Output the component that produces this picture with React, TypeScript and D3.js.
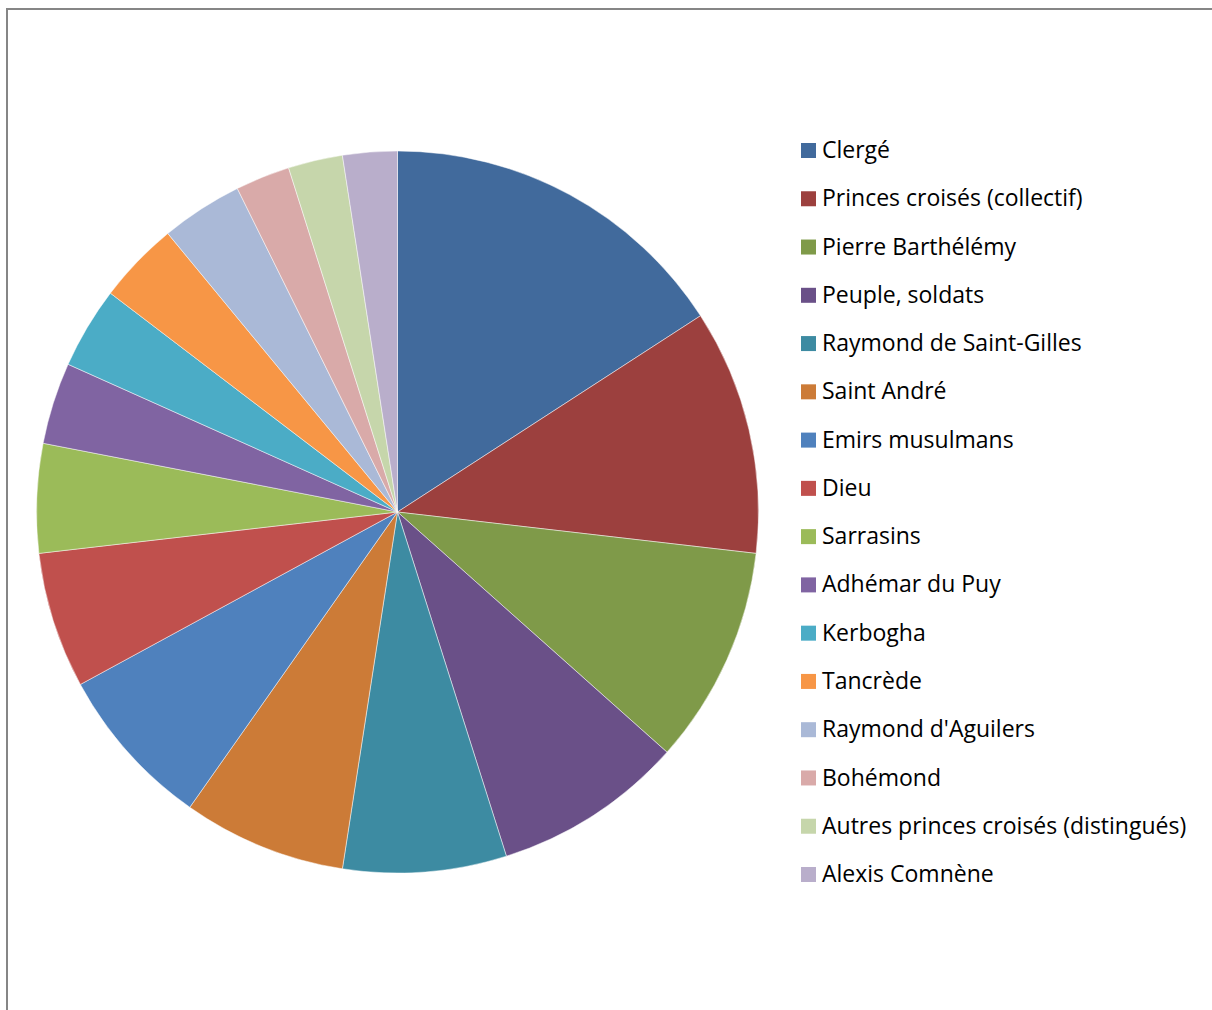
import React from "react";
import * as d3 from "d3";

const categories = [
  "Clergé",
  "Princes croisés (collectif)",
  "Pierre Barthélémy",
  "Peuple, soldats",
  "Raymond de Saint-Gilles",
  "Saint André",
  "Emirs musulmans",
  "Dieu",
  "Sarrasins",
  "Adhémar du Puy",
  "Kerbogha",
  "Tancrède",
  "Raymond d'Aguilers",
  "Bohémond",
  "Autres princes croisés (distingués)",
  "Alexis Comnène",
];
const values = [13, 9, 8, 7, 6, 6, 6, 5, 4, 3, 3, 3, 3, 2, 2, 2];
const colors = [
  "#416a9c", "#9c403e", "#7f9a49", "#6a5088", "#3d8ba2", "#cc7b37",
  "#4f81bd", "#c0504d", "#9bbb59", "#8064a2", "#4bacc6", "#f79646",
  "#aab9d7", "#d9aaa9", "#c6d6ab", "#b9aecb",
];

export default function App() {
  const W = 1212, H = 1010;
  const cx = 397.5, cy = 512, r = 361;
  const data = categories.map((c, i) => ({ c, v: values[i], col: colors[i] }));
  const pie = d3.pie<any>().value((d) => d.v).sort(null);
  const arc = d3.arc<any>().innerRadius(0).outerRadius(r);
  const arcs = pie(data);
  const legendY = d3.scalePoint<number>().domain(d3.range(categories.length)).range([150, 874]);
  return (
    <svg width={W} height={H} style={{ position: "absolute", left: 0, top: 0 }}>
      <rect x={0} y={0} width={W} height={H} fill="#fff" />
      <line x1={7} y1={8} x2={7} y2={H} stroke="#868686" strokeWidth={2} />
      <line x1={6} y1={9} x2={W} y2={9} stroke="#868686" strokeWidth={2} />
      <g transform={`translate(${cx},${cy})`}>
        {arcs.map((a, i) => (
          <path key={i} d={arc(a) || ""} fill={a.data.col} stroke="#ffffff" strokeWidth={0.6} strokeOpacity={0.8} />
        ))}
      </g>
      {categories.map((c, i) => {
        const y = legendY(i)!;
        return (
          <g key={c}>
            <rect x={801} y={y - 7} width={15} height={15} fill={colors[i]} />
            <text x={822} y={y} dy="0.35em" fontFamily="'Open Sans', sans-serif" fontSize={23} fill="#000">
              {c}
            </text>
          </g>
        );
      })}
    </svg>
  );
}
